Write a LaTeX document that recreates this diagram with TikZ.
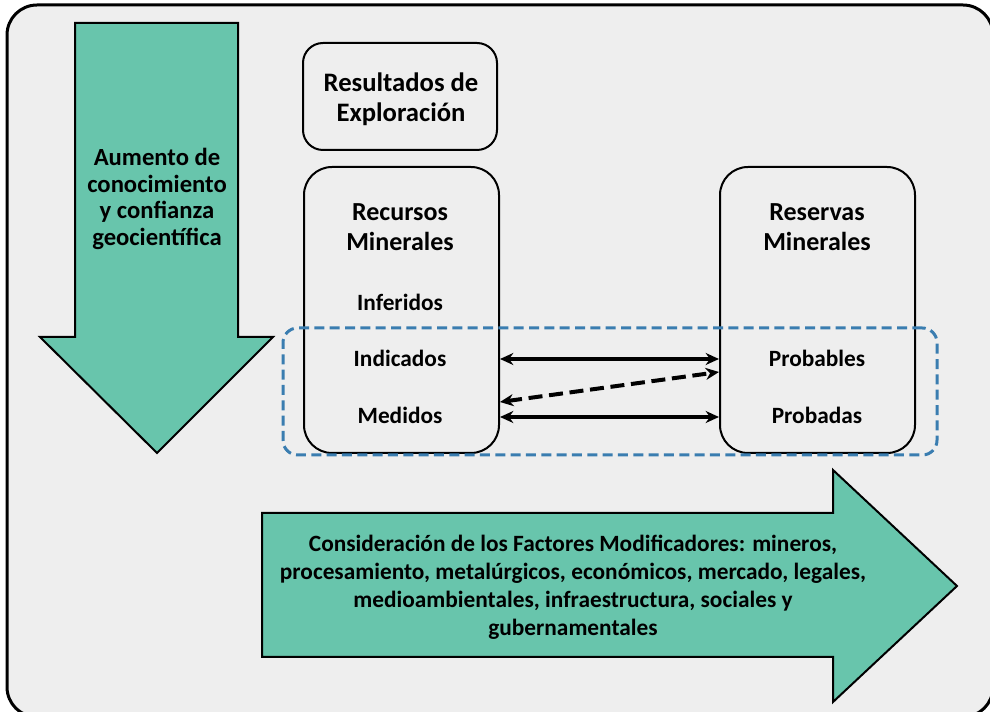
\documentclass[tikz,border=0pt]{standalone}
\usepackage{fontspec}
\setmainfont{Carlito}
\usetikzlibrary{arrows.meta,calc}
\definecolor{teal1}{HTML}{68C5AC}
\definecolor{bggray}{HTML}{EEEEEE}
\definecolor{dashblue}{HTML}{3A7DB0}
\tikzset{
  frame/.style={draw=black, line width=2.25pt, fill=bggray, rounded corners=22.5pt},
  bigarrow/.style={draw=black, line width=1.5pt, fill=teal1, line join=miter},
  rbox/.style={draw=black, line width=1.5pt, rounded corners=21pt, inner sep=0pt},
  topbox/.style={draw=black, line width=1.5pt, rounded corners=15pt, inner sep=0pt,
    minimum width=145.5pt, minimum height=80.25pt},
  zonebox/.style={draw=dashblue, line width=2.25pt, dash pattern=on 7.5pt off 4pt,
    rounded corners=11pt, inner sep=0pt},
  title/.style={align=center, inner sep=0pt, font=\fontsize{19.5}{22.5}\selectfont\bfseries},
  item/.style={inner sep=0pt, font=\fontsize{17.5}{21}\selectfont\bfseries},
  arrowtext/.style={align=center, inner sep=0pt},
  link/.style={line width=3pt, {Stealth[length=10pt,width=9pt]}-{Stealth[length=10pt,width=9pt]}},
  dlink/.style={link, dash pattern=on 10.5pt off 5pt}
}
\begin{document}
\begin{tikzpicture}[x=0.75pt,y=-0.75pt]
\useasboundingbox (0,0) rectangle (990,712);
\begin{scope}
\clip (0,0) rectangle (990,712);
\fill[white] (0,0) rectangle (990,712);
\draw[frame] (7,5) rectangle (993,717);
\end{scope}

% big arrows
\draw[bigarrow] (75,23) -- (238,23) -- (238,337) -- (273,337) -- (157,453) -- (40,337) -- (75,337) -- cycle;
\draw[bigarrow] (262,513) -- (833,513) -- (833,470) -- (957,586) -- (833,702) -- (833,657) -- (262,657) -- cycle;

\node[arrowtext, font=\fontsize{18.5}{20}\selectfont\bfseries] (know) at (157,199)
  {Aumento de\\conocimiento\\y confianza\\geocientífica};
\node[arrowtext, font=\fontsize{17.5}{21}\selectfont\bfseries] (factors) at (573,587)
  {Consideración de los Factores Modificadores: mineros,\\
   procesamiento, metalúrgicos, económicos, mercado, legales,\\
   medioambientales, infraestructura, sociales y\\
   gubernamentales};

% boxes
\node[topbox] (expl) at (400,96.5) {};
\node[title, font=\fontsize{20}{22.5}\selectfont\bfseries] (explt) at (401,99) {Resultados de\\Exploración};
\node[rbox, minimum width=146.25pt, minimum height=214.5pt] (rec) at (401.5,310) {};
\node[rbox, minimum width=146.25pt, minimum height=214.5pt] (rsv) at (817.5,310) {};

\node[title] (rect) at (400,227) {Recursos\\Minerales};
\node[item] (inf) at (400,302) {Inferidos};
\node[item] (ind) at (400,358) {Indicados};
\node[item] (med) at (400,415) {Medidos};

\node[title] (rsvt) at (817,227) {Reservas\\Minerales};
\node[item] (prob) at (817,358) {Probables};
\node[item] (proba) at (817,415) {Probadas};

\node[zonebox, minimum width=490.5pt, minimum height=95.25pt] (zone) at (610,391.5) {};

% connectors
\draw[link] ($(rec.east)+(0,49)$) -- ($(rsv.west)+(0,49)$);
\draw[dlink] ($(rec.east)+(0,92)$) -- ($(rsv.west)+(0,62)$);
\draw[link] ($(rec.east)+(0,107)$) -- ($(rsv.west)+(0,107)$);
\end{tikzpicture}
\end{document}
